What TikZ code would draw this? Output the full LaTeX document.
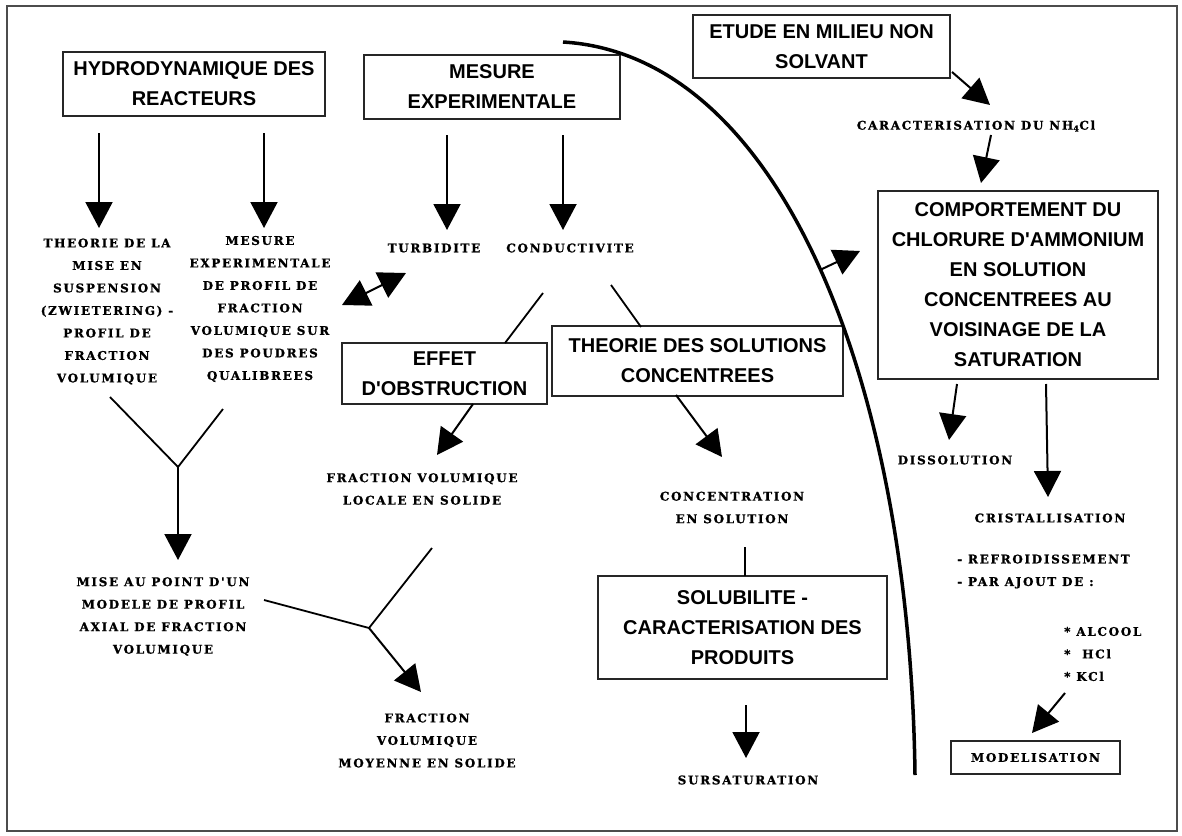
\documentclass[tikz,border=0pt]{standalone}
\usepackage{fontspec}
\setmainfont{DejaVu Serif}
\newfontfamily\titrefont{Liberation Sans}
\newfontfamily\textefont{DejaVu Serif}[LetterSpace=14,FakeBold=1]
\usepackage{tikz}
\usetikzlibrary{positioning}
\usetikzlibrary{arrows.meta}

\begin{document}
\begin{tikzpicture}[x=1pt,y=-1pt,
    titre/.style={draw=black!85,line width=1.3pt,align=center,inner sep=0pt,
      font=\titrefont\bfseries\fontsize{20}{30}\selectfont},
    texte/.style={align=center,inner sep=0pt,
      font=\textefont\bfseries\fontsize{12}{22.5}\selectfont},
    fleche/.style={line width=2pt,-{Triangle[length=26pt,width=27pt]}},
    doublefleche/.style={line width=2pt,{Triangle[length=27pt,width=28pt]}-{Triangle[length=27pt,width=28pt]}},
    trait/.style={line width=1.8pt}]
   \useasboundingbox (0,0) rectangle (1182,835);
   \draw[black!70,line width=1.2pt] (7,6) rectangle (1177,831);
   % boites
   \node[titre,minimum width=262,minimum height=64] (hydro) at (194,84) {HYDRODYNAMIQUE DES\\REACTEURS};
   \node[titre,minimum width=256,minimum height=64] (mesure) at (492,87) {MESURE\\EXPERIMENTALE};
   \node[titre,minimum width=257,minimum height=63] (etude) at (821.5,46.5) {ETUDE EN MILIEU NON\\SOLVANT};
   \node[titre,minimum width=205,minimum height=61] (effet) at (444.5,373.5) {EFFET\\D'OBSTRUCTION};
   \node[titre,minimum width=291,minimum height=70] (theorie) at (697.5,361) {THEORIE DES SOLUTIONS\\CONCENTREES};
   \node[titre,minimum width=280,minimum height=188] (comport) at (1018,285) {COMPORTEMENT DU\\CHLORURE D'AMMONIUM\\EN SOLUTION\\CONCENTREES AU\\VOISINAGE DE LA\\SATURATION};
   \node[titre,minimum width=289,minimum height=103] (solub) at (742.5,627.5) {SOLUBILITE -\\CARACTERISATION DES\\PRODUITS};
   \node[titre,texte,minimum width=169,minimum height=33] (model) at (1035.5,757.5) {MODELISATION};
   % textes
   \node[texte] (suspension) at (107,311.5) {THEORIE DE LA\\MISE EN\\SUSPENSION\\(ZWIETERING) -\\PROFIL DE\\FRACTION\\VOLUMIQUE};
   \node[texte] (mesprofil) at (260,309) {MESURE\\EXPERIMENTALE\\DE PROFIL DE\\FRACTION\\VOLUMIQUE SUR\\DES POUDRES\\QUALIBREES};
   \node[texte] (turbidite) at (434,248) {TURBIDITE};
   \node[texte] (conductivite) at (570,248) {CONDUCTIVITE};
   \node[texte] (fraclocale) at (422,489) {FRACTION VOLUMIQUE\\LOCALE EN SOLIDE};
   \node[texte] (miseaupoint) at (163,616.5) {MISE AU POINT D'UN\\MODELE DE PROFIL\\AXIAL DE FRACTION\\VOLUMIQUE};
   \node[texte] (fracmoy) at (427,740.5) {FRACTION\\VOLUMIQUE\\MOYENNE EN SOLIDE};
   \node[texte] (concentration) at (732,507.5) {CONCENTRATION\\EN SOLUTION};
   \node[texte] (sursat) at (748,780) {SURSATURATION};
   \node[texte] (caract) at (976,126) {CARACTERISATION DU NH\textsubscript{4}Cl};
   \node[texte] (dissolution) at (955,460) {DISSOLUTION};
   \node[texte] (cristal) at (1050,518) {CRISTALLISATION};
   \node[texte,align=left,anchor=west] (refroid) at (957,571.5) {- REFROIDISSEMENT\\- PAR AJOUT DE :};
   \node[texte,align=left,anchor=west] (sels) at (1064,654) {* ALCOOL\\*~~HCl\\* KCl};
   % courbe de separation
   \draw[line width=3.5pt] (563,42) .. controls (780,55) and (910,380) .. (915,775);
   \coordinate (courbe) at (820,270);
   \coordinate (jonction1) at (178,467);
   \coordinate (jonction2) at (369,628);
   % fleches
   \draw[fleche] ([shift={(-95,49)}]hydro.center) -- ([shift={(-8,-83.5)}]suspension.center);
   \draw[fleche] ([shift={(70,49)}]hydro.center) -- ([shift={(4,-81)}]mesprofil.center);
   \draw[fleche] ([shift={(-45,48)}]mesure.center) -- ([shift={(13,-18)}]turbidite.center);
   \draw[fleche] ([shift={(71,48)}]mesure.center) -- ([shift={(-7,-18)}]conductivite.center);
   \draw[doublefleche] ([shift={(82,-4)}]mesprofil.center) -- ([shift={(-28,25)}]turbidite.center);
   \draw[trait] ([shift={(-27,45)}]conductivite.center) -- ([shift={(60.5,-30.5)}]effet.center);
   \draw[trait] ([shift={(41,37)}]conductivite.center) -- ([shift={(-56.5,-34)}]theorie.center);
   \draw[fleche] ([shift={(28.5,30.5)}]effet.center) -- ([shift={(15,-34)}]fraclocale.center);
   \draw[trait] ([shift={(3,85.5)}]suspension.center) -- (jonction1);
   \draw[trait] ([shift={(-37,100)}]mesprofil.center) -- (jonction1);
   \draw[fleche] (jonction1) -- ([shift={(15,-56.5)}]miseaupoint.center);
   \draw[trait] ([shift={(101,-16.5)}]miseaupoint.center) -- (jonction2);
   \draw[trait] ([shift={(10,59)}]fraclocale.center) -- (jonction2);
   \draw[fleche] (jonction2) -- ([shift={(-6,-48.5)}]fracmoy.center);
   \draw[fleche] ([shift={(-21.5,34)}]theorie.center) -- ([shift={(-10,-50.5)}]concentration.center);
   \draw[trait] ([shift={(13,39.5)}]concentration.center) -- ([shift={(2.5,-51.5)}]solub.center);
   \draw[fleche] ([shift={(3.5,77.5)}]solub.center) -- ([shift={(-2,-22)}]sursat.center);
   \draw[fleche] (courbe) -- ([shift={(-158,-34)}]comport.center);
   \draw[fleche] ([shift={(130.5,25.5)}]etude.center) -- ([shift={(14,-21)}]caract.center);
   \draw[fleche] ([shift={(15,9)}]caract.center) -- ([shift={(-37,-102)}]comport.center);
   \draw[fleche] ([shift={(-61,99)}]comport.center) -- ([shift={(-6,-20)}]dissolution.center);
   \draw[fleche] ([shift={(28,99)}]comport.center) -- ([shift={(-2,-21)}]cristal.center);
   \draw[fleche] ([shift={(1,39)}]sels.west) -- ([shift={(-3.5,-24.5)}]model.center);
\end{tikzpicture}
\end{document}
